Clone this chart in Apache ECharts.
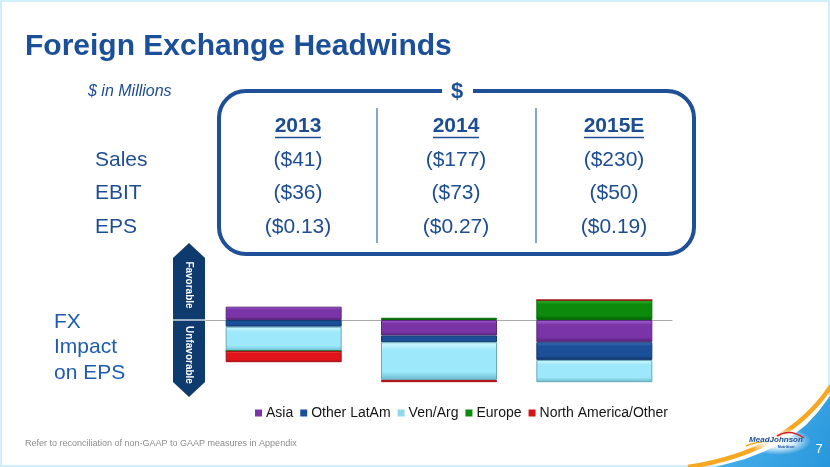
<!DOCTYPE html>
<html>
<head>
<meta charset="utf-8">
<script src="https://cdn.jsdelivr.net/npm/echarts@6/dist/echarts.min.js"></script>
<style>
html,body{margin:0;padding:0;background:#fff;}
#c{width:830px;height:467px;}
</style>
</head>
<body>
<div id="c"></div>
<script>
// ---- data ----
var categories = ['2013', '2014', '2015E'];
var seriesNames = ['Asia', 'Other LatAm', 'Ven/Arg', 'Europe', 'North America/Other'];
var asia = [0.06, -0.07, -0.10];
var otherLatAm = [-0.03, -0.03, -0.08];
var venArg = [-0.11, -0.17, -0.10];
var europe = [0, 0.01, 0.09];
var northAmerica = [-0.05, -0.01, 0];
var rowLabels = ['Sales', 'EBIT', 'EPS'];
var salesRow = ['($41)', '($177)', '($230)'];
var ebitRow = ['($36)', '($73)', '($50)'];
var epsRow = ['($0.13)', '($0.27)', '($0.19)'];

var FONT = '"Liberation Sans", Arial, sans-serif';
var TXT = '#1d4d93';

function bevel(light, main, dark) {
  return new echarts.graphic.LinearGradient(0, 0, 0, 1, [
    {offset: 0, color: light}, {offset: 0.22, color: main},
    {offset: 0.78, color: main}, {offset: 1, color: dark}
  ]);
}
var palette = [
  {light: '#a466d4', main: '#7a34a8', dark: '#4f1f70', border: '#5a2a80', legend: '#7a34a8'},
  {light: '#3f78c4', main: '#1b4f98', dark: '#0f3262', border: '#143a70', legend: '#1b4f98'},
  {light: '#d4f8ff', main: '#9de9fb', dark: '#6bb8cc', border: '#6aa8bc', legend: '#8fd8ee'},
  {light: '#33b033', main: '#0b8a0b', dark: '#055a05', border: '#076a07', legend: '#0b8a0b'},
  {light: '#ff5a5a', main: '#e0141a', dark: '#a00a0e', border: '#a81014', legend: '#d0141a'}
];
var seriesData = [asia, otherLatAm, venArg, europe, northAmerica];

var chart = echarts.init(document.getElementById('c'), null, {renderer: 'canvas'});

var series = seriesNames.map(function (n, i) {
  var p = palette[i];
  return {
    name: n, type: 'bar', stack: 'eps', barWidth: 116,
    data: seriesData[i],
    itemStyle: {color: bevel(p.light, p.main, p.dark), borderColor: p.border, borderWidth: 1},
    emphasis: {disabled: true}
  };
});

var colX = [298, 456, 614];
var rowY = [160, 193, 227];
var graphics = [];

// slide frame
graphics.push({type: 'rect', shape: {x: 1, y: 1, width: 828, height: 465}, style: {fill: 'none', stroke: '#cfeffb', lineWidth: 2}, silent: true});
// title
graphics.push({type: 'text', x: 25, y: 47, style: {text: 'Foreign Exchange Headwinds', font: 'bold 30px ' + FONT, fill: '#1b4f9a', textVerticalAlign: 'middle'}});
// $ in Millions
graphics.push({type: 'text', x: 88, y: 92, style: {text: '$ in Millions', font: 'italic 16px ' + FONT, fill: TXT, textVerticalAlign: 'middle'}});
// rounded box
graphics.push({type: 'rect', shape: {x: 219, y: 91, width: 475, height: 163, r: 27}, style: {fill: 'none', stroke: '#1f4f96', lineWidth: 4}, silent: true});
graphics.push({type: 'rect', shape: {x: 442, y: 85, width: 31, height: 12}, style: {fill: '#fff'}, silent: true});
graphics.push({type: 'text', x: 457, y: 92, style: {text: '$', font: 'bold 22px ' + FONT, fill: '#1f4f96', textAlign: 'center', textVerticalAlign: 'middle'}});
// dividers
[377, 536].forEach(function (x) {
  graphics.push({type: 'line', shape: {x1: x, y1: 108, x2: x, y2: 243}, style: {stroke: '#5f86bf', lineWidth: 1.5}, silent: true});
});
// headers
var hdrW = [46, 46, 60];
categories.forEach(function (c, i) {
  graphics.push({type: 'text', x: colX[i], y: 126, style: {text: c, font: 'bold 21px ' + FONT, fill: TXT, textAlign: 'center', textVerticalAlign: 'middle'}});
  graphics.push({type: 'line', shape: {x1: colX[i] - hdrW[i] / 2, y1: 137.5, x2: colX[i] + hdrW[i] / 2, y2: 137.5}, style: {stroke: TXT, lineWidth: 1.6}, silent: true});
});
// rows
var rows = [salesRow, ebitRow, epsRow];
rowLabels.forEach(function (lab, r) {
  graphics.push({type: 'text', x: 95, y: rowY[r], style: {text: lab, font: '21px ' + FONT, fill: TXT, textVerticalAlign: 'middle'}});
  rows[r].forEach(function (v, i) {
    graphics.push({type: 'text', x: colX[i], y: rowY[r], style: {text: v, font: '21px ' + FONT, fill: TXT, textAlign: 'center', textVerticalAlign: 'middle'}});
  });
});
// FX impact label
['FX', 'Impact', 'on EPS'].forEach(function (t, i) {
  graphics.push({type: 'text', x: 54, y: 322 + i * 25.5, style: {text: t, font: '21px ' + FONT, fill: '#1f5cb0', textVerticalAlign: 'middle'}});
});
// arrow
graphics.push({type: 'polygon', shape: {points: [[189, 243], [205, 258], [205, 382], [189, 397], [173, 382], [173, 258]]}, style: {fill: '#0f3a6e'}, silent: true});
graphics.push({type: 'line', shape: {x1: 173, y1: 320, x2: 205, y2: 320}, style: {stroke: '#ffffff', lineWidth: 1.2}, silent: true});
graphics.push({type: 'text', x: 189, y: 285, rotation: -Math.PI / 2, style: {text: 'Favorable', font: 'bold 10px ' + FONT, fill: '#fff', textAlign: 'center', textVerticalAlign: 'middle'}});
graphics.push({type: 'text', x: 189, y: 355, rotation: -Math.PI / 2, style: {text: 'Unfavorable', font: 'bold 10px ' + FONT, fill: '#fff', textAlign: 'center', textVerticalAlign: 'middle'}});
// footnote
graphics.push({type: 'text', x: 25, y: 444, style: {text: 'Refer to reconciliation of non-GAAP to GAAP measures in Appendix', font: '9px ' + FONT, fill: '#8c8c8c', textVerticalAlign: 'middle'}});
// swoosh
graphics.push({type: 'polygon', shape: {points: [[830, 396], [818, 412], [806, 425], [792, 436], [778, 445], [763, 452], [745, 459], [715, 467], [830, 467]]}, style: {fill: new echarts.graphic.LinearGradient(0, 0, 1, 1, [{offset: 0, color: '#52b9ee'}, {offset: 1, color: '#2896dc'}])}, silent: true});
graphics.push({type: 'bezierCurve', shape: {x1: 831, y1: 386, cpx1: 806, cpy1: 424, cpx2: 762, cpy2: 456, x2: 688, y2: 467}, style: {fill: 'none', stroke: '#f7a823', lineWidth: 4.5}, silent: true});
graphics.push({type: 'circle', x: 778, y: 441, scaleY: 0.42, shape: {cx: 0, cy: 0, r: 33}, style: {fill: new echarts.graphic.RadialGradient(0.5, 0.5, 0.5, [{offset: 0, color: 'rgba(255,255,255,0.95)'}, {offset: 0.5, color: 'rgba(255,255,255,0.8)'}, {offset: 1, color: 'rgba(255,255,255,0)'}])}, silent: true});
graphics.push({type: 'bezierCurve', shape: {x1: 777, y1: 436, cpx1: 790, cpy1: 428, x2: 804, y2: 438}, style: {fill: 'none', stroke: '#d8202a', lineWidth: 1.5}, silent: true});
graphics.push({type: 'bezierCurve', shape: {x1: 746, y1: 446, cpx1: 752, cpy1: 443, x2: 762, y2: 442}, style: {fill: 'none', stroke: '#f2a81e', lineWidth: 1.5}, silent: true});
graphics.push({type: 'text', x: 776, y: 440, style: {text: 'MeadJohnson', font: 'italic bold 8px ' + FONT, fill: '#1b4f9a', textAlign: 'center', textVerticalAlign: 'middle'}});
graphics.push({type: 'text', x: 786, y: 447, style: {text: 'Nutrition', font: 'bold 4px ' + FONT, fill: '#1b4f9a', textAlign: 'center', textVerticalAlign: 'middle'}});
graphics.push({type: 'text', x: 819, y: 449, style: {text: '7', font: '13px ' + FONT, fill: '#ffffff', textAlign: 'center', textVerticalAlign: 'middle'}});

chart.setOption({
  animation: false,
  backgroundColor: '#ffffff',
  grid: {left: 206, right: 158, top: 297.8, bottom: 80.4, containLabel: false},
  legend: {
    data: seriesNames.map(function (n, i) { return {name: n, itemStyle: {color: palette[i].legend, borderWidth: 0}}; }),
    left: 250, top: 401, icon: 'rect', itemWidth: 7, itemHeight: 7, itemGap: 7,
    textStyle: {fontFamily: FONT, fontSize: 14, color: '#151515', padding: [0, 0, 0, -1]},
    selectedMode: false
  },
  xAxis: {
    type: 'category', data: categories,
    axisLine: {show: true, onZero: true, lineStyle: {color: '#a8a8a8', width: 1.2}},
    axisTick: {show: false}, axisLabel: {show: false}, splitLine: {show: false}
  },
  yAxis: {
    type: 'value', min: -0.3, max: 0.1, show: false, splitLine: {show: false}
  },
  series: series,
  graphic: graphics
});
</script>
</body>
</html>
